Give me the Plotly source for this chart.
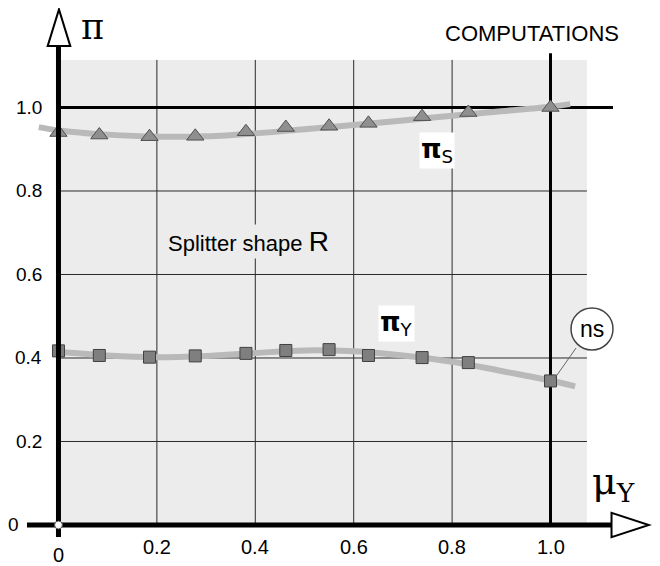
import plotly.graph_objects as go

# ---- data ----
mu_points = [0.0, 0.083, 0.185, 0.278, 0.381, 0.462, 0.550, 0.630, 0.739, 0.833, 1.0]
pi_s_points = [0.940, 0.934, 0.930, 0.931, 0.942, 0.952, 0.955, 0.962, 0.978, 0.988, 1.000]
pi_y_points = [0.417, 0.406, 0.402, 0.405, 0.411, 0.418, 0.420, 0.406, 0.401, 0.389, 0.345]

mu_fit_s = [-0.04, 0.0, 0.1, 0.2, 0.3, 0.4, 0.5, 0.6, 0.7, 0.8, 0.9, 1.0, 1.04]
pi_s_fit = [0.953, 0.945, 0.935, 0.930, 0.931, 0.938, 0.948, 0.958, 0.969, 0.980, 0.991, 1.002, 1.008]
mu_fit_y = [0.0, 0.1, 0.2, 0.3, 0.4, 0.5, 0.6, 0.7, 0.8, 0.9, 1.0, 1.05]
pi_y_fit = [0.415, 0.406, 0.402, 0.405, 0.412, 0.418, 0.416, 0.406, 0.391, 0.369, 0.346, 0.332]

x_ticks = [0.2, 0.4, 0.6, 0.8, 1.0]
x_tick_labels = ["0.2", "0.4", "0.6", "0.8", "1.0"]
y_ticks = [0.2, 0.4, 0.6, 0.8, 1.0]
y_tick_labels = ["0.2", "0.4", "0.6", "0.8", "1.0"]

FONT = "Liberation Sans, Arial, sans-serif"
GRAY_BG = "#ececec"

fig = go.Figure()

# fitted curves
fig.add_trace(go.Scatter(x=mu_fit_s, y=pi_s_fit, mode="lines", line=dict(color="#b9b9b9", width=6, shape="spline"),
                         hoverinfo="skip", showlegend=False))
fig.add_trace(go.Scatter(x=mu_fit_y, y=pi_y_fit, mode="lines", line=dict(color="#b9b9b9", width=6, shape="spline"),
                         hoverinfo="skip", showlegend=False))
# computed points
fig.add_trace(go.Scatter(x=mu_points, y=pi_s_points, mode="markers",
                         marker=dict(symbol="triangle-up", size=15, color="#8f8f8f", line=dict(color="#505050", width=1)),
                         showlegend=False, cliponaxis=False))
fig.add_trace(go.Scatter(x=mu_points, y=pi_y_points, mode="markers",
                         marker=dict(symbol="square", size=12, color="#7f7f7f", line=dict(color="#404040", width=1)),
                         showlegend=False, cliponaxis=False))

shapes = []
X_MAX, Y_MAX = 1.074, 1.114
# gray background region
shapes.append(dict(type="rect", xref="x", yref="y", x0=0, x1=X_MAX, y0=0, y1=Y_MAX,
                   fillcolor=GRAY_BG, line=dict(width=0), layer="below"))
# thin grid lines
for v in x_ticks[:-1]:
    shapes.append(dict(type="line", xref="x", yref="y", x0=v, x1=v, y0=0, y1=Y_MAX,
                       line=dict(color="#2a2a2a", width=1), layer="below"))
for v in y_ticks[:-1]:
    shapes.append(dict(type="line", xref="x", yref="y", x0=0, x1=X_MAX, y0=v, y1=v,
                       line=dict(color="#2a2a2a", width=1), layer="below"))
# thick reference lines at 1.0
shapes.append(dict(type="line", xref="x", yref="y", x0=1.0, x1=1.0, y0=0, y1=1.13,
                   line=dict(color="black", width=3), layer="below"))
shapes.append(dict(type="line", xref="x", yref="y", x0=0, x1=1.127, y0=1.0, y1=1.0,
                   line=dict(color="black", width=3), layer="below"))
# axes
shapes.append(dict(type="line", xref="x", yref="y", x0=0, x1=0, y0=-0.029, y1=1.15,
                   line=dict(color="black", width=5)))
shapes.append(dict(type="line", xref="x", yref="y", x0=-0.064, x1=1.125, y0=0, y1=0,
                   line=dict(color="black", width=5)))
# arrow heads
shapes.append(dict(type="path", xref="x", yref="y", path="M -0.022,1.147 L 0.024,1.147 L 0.001,1.235 Z",
                   fillcolor="white", line=dict(color="black", width=2)))
shapes.append(dict(type="path", xref="x", yref="y", path="M 1.124,0.029 L 1.124,-0.029 L 1.200,0.0 Z",
                   fillcolor="white", line=dict(color="black", width=2)))
# origin circle
shapes.append(dict(type="circle", xref="x", yref="y", x0=-0.008, x1=0.008, y0=-0.0095, y1=0.0095,
                   fillcolor="white", line=dict(color="#555", width=1)))
# ns callout
shapes.append(dict(type="line", xref="x", yref="y", x0=1.009, y0=0.352, x1=1.052, y1=0.424,
                   line=dict(color="#666", width=1)))
shapes.append(dict(type="circle", xref="x", yref="y", x0=1.0417, x1=1.127, y0=0.419, y1=0.52,
                   fillcolor="white", line=dict(color="#444", width=1.5)))

ann = []
for v, t in zip(y_ticks, y_tick_labels):
    ann.append(dict(x=0, y=v, xref="x", yref="y", text=t, showarrow=False, xanchor="right", yanchor="middle",
                    xshift=-14, font=dict(family=FONT, size=19, color="black")))
ann.append(dict(x=0, y=0, xref="x", yref="y", text="0", showarrow=False, xanchor="center", yanchor="middle",
                xshift=-45, font=dict(family=FONT, size=19, color="black")))
for v, t in zip(x_ticks, x_tick_labels):
    ann.append(dict(x=v, y=0, xref="x", yref="y", text=t, showarrow=False, xanchor="center", yanchor="middle",
                    yshift=-22, font=dict(family=FONT, size=20, color="black")))
ann.append(dict(x=0, y=0, xref="x", yref="y", text="0", showarrow=False, xanchor="center", yanchor="middle",
                yshift=-30, font=dict(family=FONT, size=20, color="black")))

ann.append(dict(x=0.070, y=1.192, xref="x", yref="y", text="π", showarrow=False,
                font=dict(family="DejaVu Serif", size=35, color="black")))
ann.append(dict(x=1.128, y=0.100, xref="x", yref="y", text="μ<sub>Y</sub>", showarrow=False,
                font=dict(family="DejaVu Serif", size=38, color="black")))
ann.append(dict(x=0.9624, y=1.178, xref="x", yref="y", text="COMPUTATIONS", showarrow=False,
                font=dict(family=FONT, size=22, color="black")))
ann.append(dict(x=0.2185, y=0.678, xref="x", yref="y", text="Splitter shape <span style='font-size:28px'>R</span>",
                showarrow=False, xanchor="left", bgcolor=GRAY_BG,
                font=dict(family=FONT, size=22, color="black")))
ann.append(dict(x=0.7693, y=0.898, xref="x", yref="y", text="<b>π</b><sub>S</sub>", showarrow=False,
                bgcolor="white", font=dict(family="DejaVu Sans", size=26, color="black")))
ann.append(dict(x=0.688, y=0.4838, xref="x", yref="y", text="<b>π</b><sub>Y</sub>", showarrow=False,
                bgcolor="white", font=dict(family="DejaVu Sans", size=26, color="black")))
ann.append(dict(x=1.0843, y=0.4695, xref="x", yref="y", text="ns", showarrow=False,
                font=dict(family=FONT, size=23, color="black")))

# page is shown with an 8 px body margin, so ranges are offset by 8 px
fig.update_layout(
    width=660, height=566,
    margin=dict(l=0, r=0, t=0, b=0),
    paper_bgcolor="white", plot_bgcolor="white",
    xaxis=dict(range=[-0.1026, 1.2388], visible=False, fixedrange=True),
    yaxis=dict(range=[-0.1174, 1.2383], visible=False, fixedrange=True),
    shapes=shapes, annotations=ann, showlegend=False,
)

fig.write_html("out.html")
